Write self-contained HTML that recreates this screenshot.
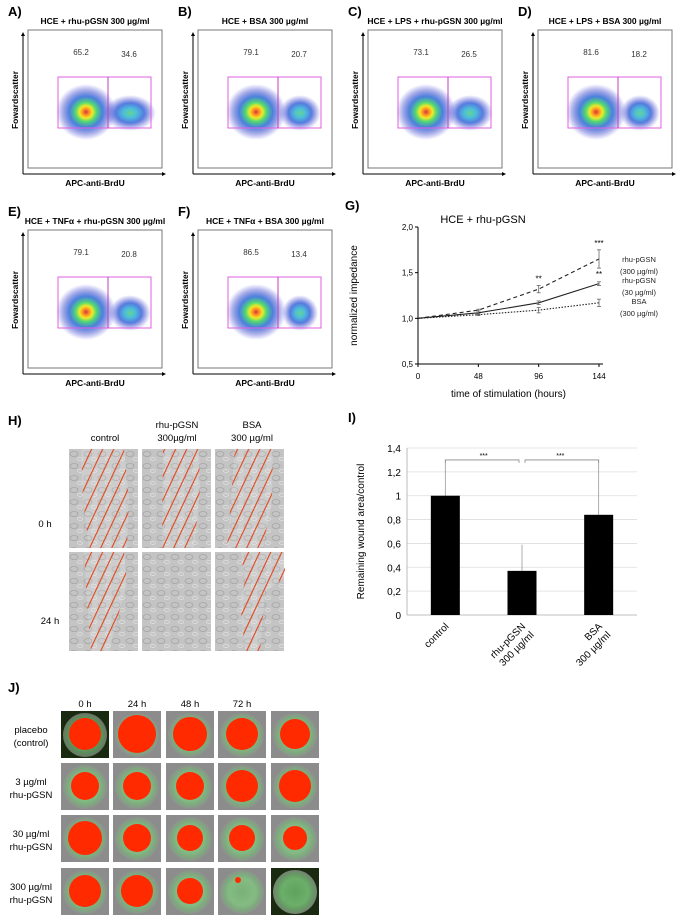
<!DOCTYPE html>
<html><head><meta charset="utf-8">
<style>
body{margin:0;background:#fff;width:684px;height:919px;overflow:hidden;font-family:"Liberation Sans",Arial,sans-serif;position:relative}
.abs{position:absolute}
svg text{font-family:"Liberation Sans",Arial,sans-serif}
</style></head><body>
<svg id="flow" class="abs" style="left:0;top:0" width="684" height="400"></svg>

<svg id="gchart" class="abs" style="left:340px;top:195px" width="344" height="210"></svg>

<svg id="hpanel" class="abs" style="left:0;top:400px" width="340" height="260"></svg>

<svg id="ichart" class="abs" style="left:340px;top:405px" width="344" height="270"></svg>

<svg id="jpanel" class="abs" style="left:0;top:680px" width="340" height="239"></svg>

<script>
const NS='http://www.w3.org/2000/svg';
function mk(p,tag,attrs,txt){const e=document.createElementNS(NS,tag);for(const k in attrs)e.setAttribute(k,attrs[k]);if(txt!==undefined)e.textContent=txt;p.appendChild(e);return e;}

/* ---------- Flow panels ---------- */
const flowLetters=['A)','B)','C)','D)','E)','F)'];
const flowTitles=['HCE + rhu-pGSN 300 µg/ml','HCE + BSA 300 µg/ml','HCE + LPS + rhu-pGSN 300 µg/ml','HCE + LPS + BSA 300 µg/ml','HCE + TNFα + rhu-pGSN 300 µg/ml','HCE + TNFα + BSA 300 µg/ml'];
const flowLeft=[65.2,79.1,73.1,81.6,79.1,86.5];
const flowRight=[34.6,20.7,26.5,18.2,20.8,13.4];
const flow=document.getElementById('flow');
const defs=mk(flow,'defs',{});
const g1=mk(defs,'radialGradient',{id:'hot'});
[['0','#d01010'],['0.12','#ff8800'],['0.22','#e8e800'],['0.35','#30d060'],['0.55','#2a6ad8'],['0.8','rgba(50,60,200,0.45)'],['1','rgba(60,60,220,0)']].forEach(s=>mk(g1,'stop',{offset:s[0],'stop-color':s[1]}));
const g2=mk(defs,'radialGradient',{id:'warm'});
[['0','#40c870'],['0.25','#20b0d0'],['0.55','#2a5ad8'],['0.8','rgba(50,60,200,0.4)'],['1','rgba(60,60,220,0)']].forEach(s=>mk(g2,'stop',{offset:s[0],'stop-color':s[1]}));
for(let i=0;i<6;i++){
  const ox=(i%4)*170, oy=i<4?0:200;
  const g=mk(flow,'g',{transform:`translate(${ox},${oy})`});
  
  
  mk(g,'text',{x:8,y:16,'font-size':13,'font-weight':'bold'},flowLetters[i]);
  mk(g,'text',{x:95,y:24,'font-size':8.5,'font-weight':'bold','text-anchor':'middle'},flowTitles[i]);
  mk(g,'rect',{x:28,y:30,width:134,height:138,fill:'none',stroke:'#777','stroke-width':1});
  mk(g,'line',{x1:23,y1:174,x2:162,y2:174,stroke:'#000'});
  mk(g,'line',{x1:23,y1:174,x2:23,y2:36,stroke:'#000'});
  mk(g,'polygon',{points:'21,36 25,36 23,32',fill:'#000'});
  mk(g,'polygon',{points:'162,172 162,176 166,174',fill:'#000'});
  mk(g,'text',{x:95,y:186,'font-size':8.5,'font-weight':'bold','text-anchor':'middle'},'APC-anti-BrdU');
  mk(g,'text',{x:0,y:0,'font-size':8.5,'font-weight':'bold','text-anchor':'middle',transform:'translate(18,100) rotate(-90)'},'Fowardscatter');
  mk(g,'ellipse',{cx:86,cy:112,rx:30,ry:28,fill:'url(#hot)',opacity:0.85});
  mk(g,'ellipse',{cx:130,cy:113,rx:22*(0.6+flowRight[i]/60),ry:18,fill:'url(#warm)',opacity:0.8});
  mk(g,'rect',{x:58,y:77,width:93,height:51,fill:'none',stroke:'#e060e0','stroke-width':1});
  mk(g,'line',{x1:108,y1:77,x2:108,y2:128,stroke:'#c040c0','stroke-width':1});
  mk(g,'text',{x:81,y:55,'font-size':8,'text-anchor':'middle',fill:'#333'},flowLeft[i].toFixed(1));
  mk(g,'text',{x:129,y:57,'font-size':8,'text-anchor':'middle',fill:'#333'},flowRight[i].toFixed(1));
}

/* ---------- G impedance chart ---------- */
const gTimes=[0,48,96,144];
const gHigh=[1.0,1.09,1.32,1.65];
const gHighErr=[0,0.01,0.04,0.1];
const gMid=[1.0,1.06,1.17,1.38];
const gMidErr=[0,0.02,0.02,0.02];
const gBsa=[1.0,1.04,1.09,1.17];
const gBsaErr=[0,0.01,0.03,0.04];
const gYTicks=[0.5,1.0,1.5,2.0];
const gYTickLabels=['0,5','1,0','1,5','2,0'];
(function(){
  const s=document.getElementById('gchart');
  const X=t=>78+t/144*181, Y=v=>169-(v-0.5)/1.5*137;
  mk(s,'text',{x:5,y:15,'font-size':13,'font-weight':'bold'},'G)');
  mk(s,'text',{x:143,y:28,'font-size':11,'text-anchor':'middle'},'HCE + rhu-pGSN');
  mk(s,'line',{x1:X(0),y1:Y(0.5),x2:X(144)+4,y2:Y(0.5),stroke:'#000'});
  mk(s,'line',{x1:X(0),y1:Y(0.5),x2:X(0),y2:Y(2),stroke:'#000'});
  gYTicks.forEach((v,i)=>{mk(s,'line',{x1:X(0)-3,y1:Y(v),x2:X(0),y2:Y(v),stroke:'#000'});
    mk(s,'text',{x:X(0)-5,y:Y(v)+3,'font-size':8,'text-anchor':'end'},gYTickLabels[i]);});
  gTimes.forEach(t=>{mk(s,'line',{x1:X(t),y1:Y(0.5),x2:X(t),y2:Y(0.5)+3,stroke:'#000'});
    mk(s,'text',{x:X(t),y:Y(0.5)+15,'font-size':8,'text-anchor':'middle'},String(t));});
  mk(s,'text',{x:X(72),y:Y(0.5)+33,'font-size':10,'text-anchor':'middle'},'time of stimulation  (hours)');
  mk(s,'text',{x:0,y:0,'font-size':10,'text-anchor':'middle',transform:`translate(17,${Y(1.25)}) rotate(-90)`},'normalized impedance');
  const series=[[gHigh,gHighErr,'4,3','high'],[gMid,gMidErr,'','mid'],[gBsa,gBsaErr,'1.5,1.5','bsa']];
  series.forEach(([v,e,d,n])=>{
    const p=mk(s,'polyline',{points:v.map((y,i)=>X(gTimes[i])+','+Y(y)).join(' '),fill:'none',stroke:'#222','stroke-width':1.1,'stroke-dasharray':d});
    
    
    v.forEach((y,i)=>{if(!e[i])return;const x=X(gTimes[i]);
      mk(s,'line',{x1:x,y1:Y(y-e[i]),x2:x,y2:Y(y+e[i]),stroke:'#666','stroke-width':0.8});
      mk(s,'line',{x1:x-2,y1:Y(y-e[i]),x2:x+2,y2:Y(y-e[i]),stroke:'#666','stroke-width':0.8});
      mk(s,'line',{x1:x-2,y1:Y(y+e[i]),x2:x+2,y2:Y(y+e[i]),stroke:'#666','stroke-width':0.8});});
  });
  mk(s,'text',{x:X(96),y:Y(gHigh[2]+gHighErr[2])-4,'font-size':8,'text-anchor':'middle'},'**');
  mk(s,'text',{x:X(144),y:Y(gHigh[3]+gHighErr[3])-4,'font-size':8,'text-anchor':'middle'},'***');
  mk(s,'text',{x:X(144),y:Y(gMid[3]+gMidErr[3])-5,'font-size':8,'text-anchor':'middle'},'**');
  [['rhu-pGSN',62],['(300 µg/ml)',74],['rhu-pGSN',83],['(30 µg/ml)',95],['BSA',104],['(300 µg/ml)',116]].forEach(([t,y])=>
    mk(s,'text',{x:299,y:y+5,'font-size':7.5,'text-anchor':'middle',fill:'#222'},t));
})();

/* ---------- H wound images ---------- */
(function(){
  const s=document.getElementById('hpanel');
  const d=mk(s,'defs',{});
  const pat=mk(d,'pattern',{id:'hatch',width:10,height:10,patternUnits:'userSpaceOnUse',patternTransform:'rotate(25)'});
  mk(pat,'rect',{width:10,height:10,fill:'rgba(255,255,255,0.15)'});
  mk(pat,'line',{x1:0,y1:0,x2:0,y2:10,stroke:'#e2461c','stroke-width':2.2});
  const tex=mk(d,'pattern',{id:'cells',width:14,height:12,patternUnits:'userSpaceOnUse'});
  mk(tex,'rect',{width:14,height:12,fill:'#c4c4c4'});
  mk(tex,'ellipse',{cx:5,cy:5,rx:4,ry:2.5,fill:'none',stroke:'#a5a5a5','stroke-width':0.8});
  mk(tex,'ellipse',{cx:11,cy:10,rx:2.5,ry:1.5,fill:'none',stroke:'#e0e0e0','stroke-width':0.8});
  mk(s,'text',{x:8,y:25,'font-size':13,'font-weight':'bold'},'H)');
  mk(s,'text',{x:105,y:41,'font-size':9.5,'text-anchor':'middle'},'control');
  mk(s,'text',{x:177,y:28,'font-size':9.5,'text-anchor':'middle'},'rhu-pGSN');
  mk(s,'text',{x:177,y:41,'font-size':9.5,'text-anchor':'middle'},'300µg/ml');
  mk(s,'text',{x:252,y:28,'font-size':9.5,'text-anchor':'middle'},'BSA');
  mk(s,'text',{x:252,y:41,'font-size':9.5,'text-anchor':'middle'},'300 µg/ml');
  mk(s,'text',{x:45,y:127,'font-size':9.5,'text-anchor':'middle'},'0 h');
  mk(s,'text',{x:50,y:224,'font-size':9.5,'text-anchor':'middle'},'24 h');
  const cols=[69,142,215], rows=[49,152];
  const hatches=[
    ['12,0 55,0 60,50 58,99 20,99 14,50','21,0 57,0 58,40 52,99 20,99','20,0 58,0 57,50 48,99 12,99'],
    ['15,0 55,0 58,30 40,99 22,99 18,50','','26,0 70,0 70,25 50,40 45,99 30,99 25,50 30,30']];
  rows.forEach((y,r)=>cols.forEach((x,c)=>{
    const g=mk(s,'g',{transform:`translate(${x},${y})`});
    
    
    mk(g,'rect',{width:69,height:99,fill:'url(#cells)'});
    if(hatches[r][c]) mk(g,'polygon',{points:hatches[r][c],fill:'url(#hatch)'});
  }));
})();

/* ---------- I bar chart ---------- */
const iCats=['control','rhu-pGSN|300 µg/ml','BSA|300 µg/ml'];
const iVals=[1.0,0.37,0.84];
const iErr=[0.3,0.22,0.46];
const iTicks=[0,0.2,0.4,0.6,0.8,1,1.2,1.4];
const iTickLabels=['0','0,2','0,4','0,6','0,8','1','1,2','1,4'];
(function(){
  const s=document.getElementById('ichart');
  const Y=v=>210-v/1.4*167, left=67, right=297, bw=(right-left)/iCats.length;
  mk(s,'text',{x:8,y:17,'font-size':13,'font-weight':'bold'},'I)');
  iTicks.forEach((v,i)=>{
    mk(s,'line',{x1:left,y1:Y(v),x2:right,y2:Y(v),stroke:i?'#ddd':'#aaa','stroke-width':0.8});
    mk(s,'text',{x:left-6,y:Y(v)+4,'font-size':10,'text-anchor':'end'},iTickLabels[i]);});
  mk(s,'line',{x1:left,y1:Y(0),x2:left,y2:Y(1.4),stroke:'#aaa','stroke-width':0.8});
  mk(s,'text',{x:0,y:0,'font-size':10,'text-anchor':'middle',transform:`translate(24,${Y(0.7)}) rotate(-90)`},'Remaining wound area/control');
  iVals.forEach((v,i)=>{
    const cx=left+bw*(i+0.5);
    mk(s,'line',{x1:cx,y1:Y(v),x2:cx,y2:Y(v+iErr[i]),stroke:'#999','stroke-width':0.8});
    const r=mk(s,'rect',{x:cx-14.5,y:Y(v),width:29,height:Y(0)-Y(v),fill:'#000'});
    
    
    const parts=iCats[i].split('|');
    const t=mk(s,'text',{'font-size':10,'text-anchor':'end',transform:`translate(${cx+4},${Y(0)+12}) rotate(-45)`});
    parts.forEach((p,k)=>mk(t,'tspan',{x:0,dy:k?12:0},p));
  });
  const c0=left+bw*0.5,c1=left+bw*1.5,c2=left+bw*2.5,by=Y(1.3);
  mk(s,'polyline',{points:`${c0},${by+3} ${c0},${by} ${c1-3},${by} ${c1-3},${by+3}`,fill:'none',stroke:'#888','stroke-width':0.8});
  mk(s,'polyline',{points:`${c1+3},${by+3} ${c1+3},${by} ${c2},${by} ${c2},${by+3}`,fill:'none',stroke:'#888','stroke-width':0.8});
  mk(s,'text',{x:(c0+c1)/2,y:by-2,'font-size':7,'text-anchor':'middle'},'***');
  mk(s,'text',{x:(c1+c2)/2,y:by-2,'font-size':7,'text-anchor':'middle'},'***');
})();

/* ---------- J eye panel ---------- */
(function(){
  const s=document.getElementById('jpanel');
  const d=mk(s,'defs',{});
  const rg=mk(d,'radialGradient',{id:'ring'});
  [['0','#70c070'],['0.6','#80d080'],['0.8','#78b878'],['1','#8e948e']].forEach(x=>mk(rg,'stop',{offset:x[0],'stop-color':x[1]}));
  mk(s,'text',{x:8,y:12,'font-size':13,'font-weight':'bold'},'J)');
  const xs=[61,113,166,218,271], ys=[31,83,135,188];
  ['0 h','24 h','48 h','72 h'].forEach((t,i)=>mk(s,'text',{x:xs[i]+24,y:27,'font-size':9.5,'text-anchor':'middle'},t));
  const rl=[['placebo','(control)'],['3 µg/ml','rhu-pGSN'],['30 µg/ml','rhu-pGSN'],['300 µg/ml','rhu-pGSN']];
  rl.forEach((l,i)=>{mk(s,'text',{x:31,y:ys[i]+22,'font-size':9.5,'text-anchor':'middle'},l[0]);
    mk(s,'text',{x:31,y:ys[i]+35,'font-size':9.5,'text-anchor':'middle'},l[1]);});
  const rad=[[16,19,17,16,15],[14,14,14,16,16],[17,14,13,13,12],[16,16,13,3,0]];
  ys.forEach((y,r)=>xs.forEach((x,c)=>{
    const g=mk(s,'g',{transform:`translate(${x},${y})`});
    
    
    mk(g,'rect',{width:48,height:47,fill:(r===0&&c===0)||(r===3&&c===4)?'#1a2a10':'#8c8c8c'});
    mk(g,'circle',{cx:24,cy:24,r:22,fill:'url(#ring)',opacity:r===3&&c===4?0.8:0.7});
    if(rad[r][c]) mk(g,'circle',{cx:c===3&&r===3?20:24,cy:c===3&&r===3?12:23,r:rad[r][c],fill:'#ff2a00'});
  }));
})();
</script>
</body></html>
